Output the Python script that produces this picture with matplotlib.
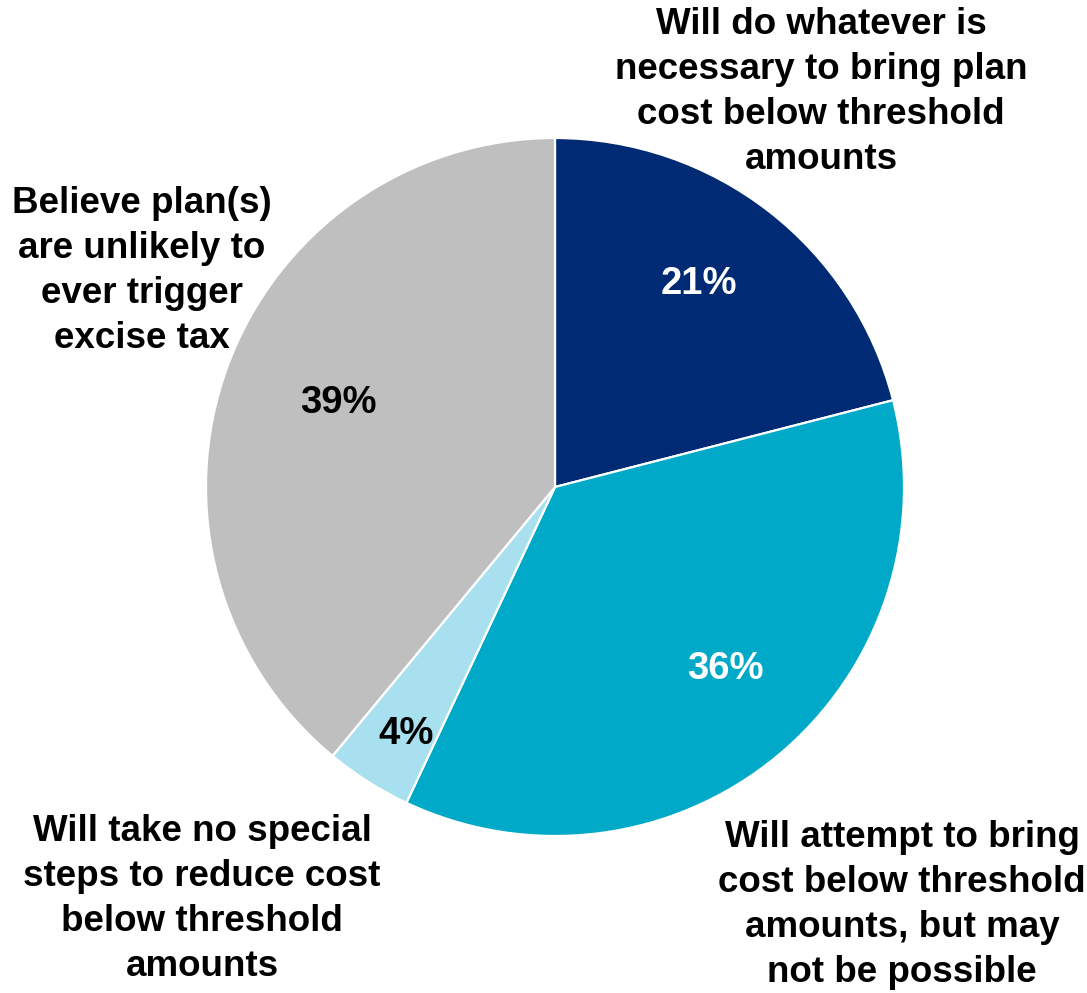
import matplotlib.pyplot as plt
import numpy as np

plt.rcParams['font.family'] = ['Liberation Sans', 'DejaVu Sans']

shares = [21, 36, 4, 39]
pct_labels = ['21%', '36%', '4%', '39%']
categories = [
    'Will do whatever is\nnecessary to bring plan\ncost below threshold\namounts',
    'Will attempt to bring\ncost below threshold\namounts, but may\nnot be possible',
    'Will take no special\nsteps to reduce cost\nbelow threshold\namounts',
    'Believe plan(s)\nare unlikely to\never trigger\nexcise tax',
]
colors = ['#002B74', '#00A9C8', '#A8E0EF', '#BFBFBF']
pct_colors = ['white', 'white', 'black', 'black']

# where the percentages sit inside each wedge (fraction of radius, angle nudge in deg)
pct_r = [0.72, 0.71, 0.82, 0.67]
pct_nudge = [3, 4, 1, -2]

# category text blocks, in pixel units of the canvas
cat_xy = [(821, 901), (902, 88), (202, 94), (142, 722)]

W, H = 1087, 993
fig = plt.figure(figsize=(W / 100, H / 100), dpi=100)
ax = fig.add_axes([0, 0, 1, 1])

cx, cy, R = 555, H - 487, 349
wedges, _ = ax.pie(shares, colors=colors, startangle=90, counterclock=False,
                   center=(cx, cy), radius=R,
                   wedgeprops=dict(edgecolor='white', linewidth=1.6))
ax.set_xlim(0, W)
ax.set_ylim(0, H)
ax.set_aspect('equal')
ax.axis('off')

for w, lab, col, r, dn in zip(wedges, pct_labels, pct_colors, pct_r, pct_nudge):
    mid = np.deg2rad((w.theta1 + w.theta2) / 2 + dn)
    ax.text(cx + r * R * np.cos(mid), cy + r * R * np.sin(mid) - 3, lab,
            ha='center', va='center', fontsize=27.5, fontweight='bold', color=col)

for txt, (x, y) in zip(categories, cat_xy):
    ax.text(x, y, txt, ha='center', va='center', fontsize=26.5,
            fontweight='bold', color='black', linespacing=1.36)

fig.savefig('out.png', dpi=100)
